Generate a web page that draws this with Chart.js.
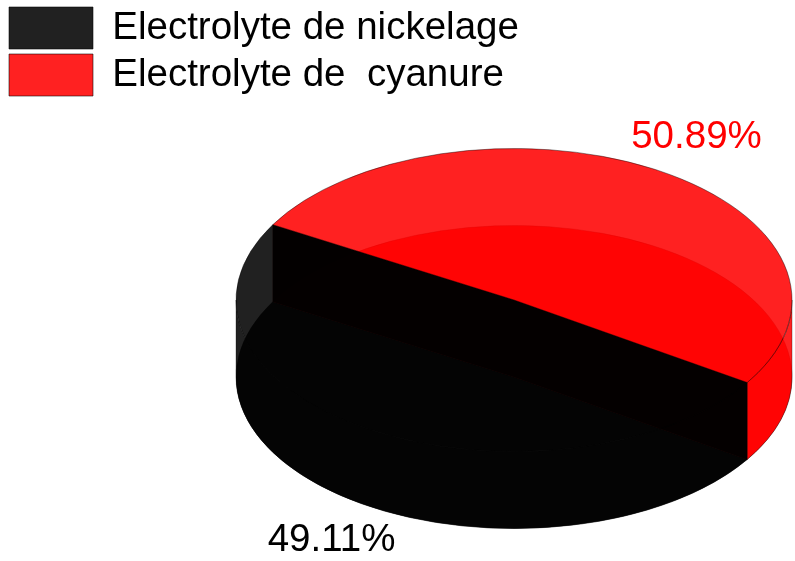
<!DOCTYPE html>
<html>
<head>
<meta charset="utf-8">
<script src="https://cdn.jsdelivr.net/npm/chart.js@4/dist/chart.umd.min.js"></script>
<style>
  html, body { margin: 0; padding: 0; background: #fff; overflow: hidden; }
  #wrap { width: 795px; height: 561px; }
</style>
</head>
<body>
<div id="wrap"><canvas id="pie"></canvas></div>
<script>
const LABELS = ["Electrolyte de nickelage", "Electrolyte de  cyanure"];
const SHARES = [49.11, 50.89];
const FILLS = ["rgba(0, 0, 0, 0.87)", "rgba(255, 0, 0, 0.87)"];
const LABEL_COLORS = ["#000000", "#ff0000"];

Chart.defaults.font.family = '"Liberation Sans", Arial, sans-serif';
Chart.defaults.color = "#000";

// empty column on the left so the pie sits under the right part of the legend
const leftGap = {
    id: "leftGap",
    beforeInit(chart, args, opts) {
        Chart.layouts.addBox(chart, {
            position: "left",
            fullSize: false,
            weight: 0,
            options: {},
            update(maxWidth, maxHeight) {
                this.width = opts.width;
                this.height = maxHeight;
            },
            isHorizontal() {
                return false;
            },
            draw() {},
        });
    },
};

// fake 3D: bottom faces, cut faces and front walls are drawn from the arc
// geometry, then the arcs themselves are drawn squashed as the top faces
const pie3d = {
    id: "pie3d",
    beforeDatasetsDraw(chart, args, opts) {
        const arcs = chart.getDatasetMeta(0).data;
        const ctx = chart.ctx;
        const k = opts.tilt;
        const depth = opts.depth;
        const cx = arcs[0].x;
        const cy = arcs[0].y;
        const r = arcs[0].outerRadius;

        ctx.save();
        ctx.lineWidth = 0.7;
        ctx.strokeStyle = opts.edgeColor;

        arcs.forEach((arc) => {
            ctx.beginPath();
            ctx.moveTo(cx, cy + depth);
            ctx.ellipse(cx, cy + depth, r, r * k, 0, arc.startAngle, arc.endAngle);
            ctx.closePath();
            ctx.fillStyle = arc.options.backgroundColor;
            ctx.fill();
            ctx.stroke();
        });

        const mid = (arc) => Math.sin((arc.startAngle + arc.endAngle) / 2);
        const backToFront = arcs.slice().sort((a, b) => mid(a) - mid(b));

        backToFront.forEach((arc) => {
            ctx.fillStyle = arc.options.backgroundColor;
            [arc.startAngle, arc.endAngle].forEach((a) => {
                const x1 = cx + r * Math.cos(a);
                const y1 = cy + r * k * Math.sin(a);
                ctx.beginPath();
                ctx.moveTo(cx, cy);
                ctx.lineTo(x1, y1);
                ctx.lineTo(x1, y1 + depth);
                ctx.lineTo(cx, cy + depth);
                ctx.closePath();
                ctx.fill();
            });
        });

        // outer wall, only the half that faces the viewer
        backToFront.forEach((arc) => {
            ctx.fillStyle = arc.options.backgroundColor;
            for (let n = -1; n <= 2; n++) {
                const a = Math.max(arc.startAngle, 2 * Math.PI * n);
                const b = Math.min(arc.endAngle, 2 * Math.PI * n + Math.PI);
                if (b <= a) continue;
                ctx.beginPath();
                ctx.ellipse(cx, cy, r, r * k, 0, a, b);
                ctx.ellipse(cx, cy + depth, r, r * k, 0, b, a, true);
                ctx.closePath();
                ctx.fill();
                ctx.stroke();
            }
        });
        ctx.restore();

        ctx.save();
        ctx.translate(cx, cy);
        ctx.scale(1, k);
        ctx.translate(-cx, -cy);
    },
    afterDatasetsDraw(chart, args, opts) {
        const ctx = chart.ctx;
        ctx.restore();

        const arcs = chart.getDatasetMeta(0).data;
        const k = opts.tilt;
        ctx.save();
        ctx.font = opts.labelFont;
        ctx.textAlign = "center";
        ctx.textBaseline = "middle";
        arcs.forEach((arc, i) => {
            const m = (arc.startAngle + arc.endAngle) / 2;
            const d = arc.outerRadius * opts.labelDistance;
            const x = arc.x + Math.cos(m) * d;
            let y = arc.y + Math.sin(m) * d * k;
            if (Math.sin(m) > 0) y += opts.depth;
            ctx.fillStyle = LABEL_COLORS[i];
            ctx.fillText(SHARES[i].toFixed(2) + "%", x, y);
        });
        ctx.restore();
    },
};

new Chart(document.getElementById("pie"), {
    type: "pie",
    data: {
        labels: LABELS,
        datasets: [
            {
                data: SHARES,
                backgroundColor: FILLS,
                borderColor: "rgba(0, 0, 0, 0.55)",
                borderWidth: 1,
                radius: 278,
                clip: false,
            },
        ],
    },
    options: {
        responsive: true,
        maintainAspectRatio: false,
        animation: false,
        events: [],
        rotation: 123,
        layout: {
            padding: { left: 4, top: 2, right: 0, bottom: 67 },
        },
        plugins: {
            legend: {
                position: "top",
                align: "start",
                labels: {
                    boxWidth: 84,
                    boxHeight: 42,
                    padding: 5,
                    font: { size: 38.5 },
                    color: "#000",
                },
            },
            tooltip: { enabled: false },
            leftGap: { width: 229 },
            pie3d: {
                tilt: 0.545,
                depth: 77,
                edgeColor: "rgba(0, 0, 0, 0.45)",
                labelDistance: 1.26,
                labelFont: '38.5px "Liberation Sans", Arial, sans-serif',
            },
        },
    },
    plugins: [leftGap, pie3d],
});
</script>
</body>
</html>
